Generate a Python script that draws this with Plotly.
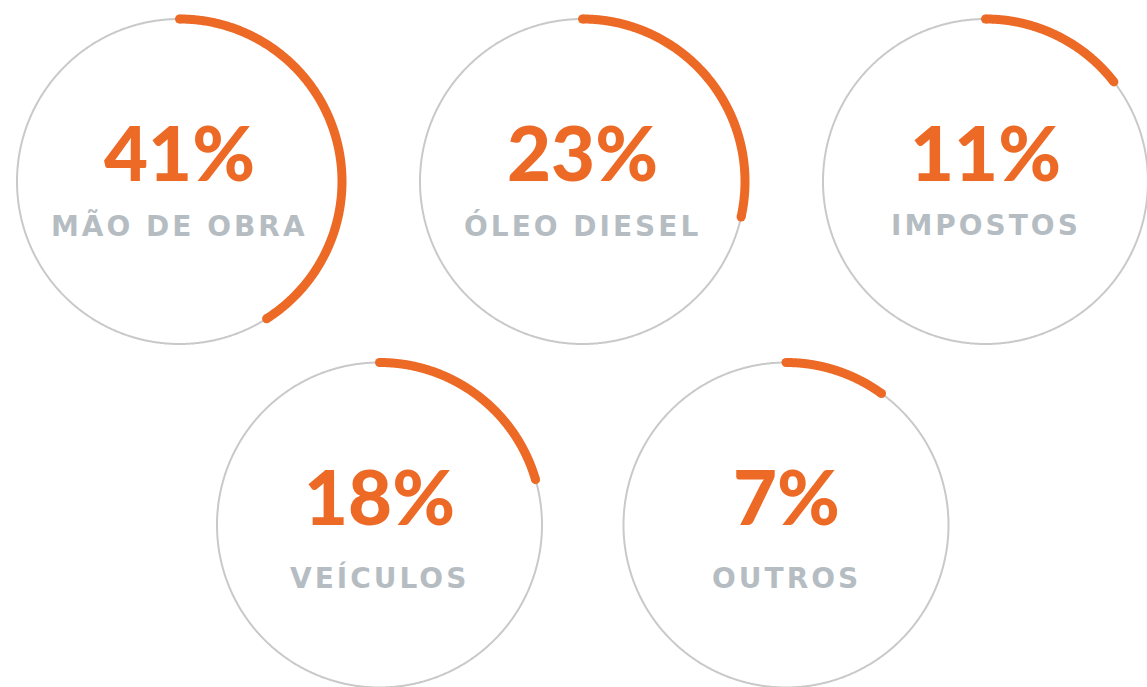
import numpy as np
import plotly.graph_objects as go

# ---- data ----
labels = ["MÃO DE OBRA", "ÓLEO DIESEL", "IMPOSTOS", "VEÍCULOS", "OUTROS"]
values = [41, 23, 11, 18, 7]                 # printed percentages
arc_extent = [41, 28.5, 14.5, 20.5, 10]      # arc length (percent of circle) as drawn in the picture

# ---- layout / style ----
W, H = 1147, 687
centers = [(179.5, 181.5), (582.5, 181.5), (985.5, 181.5), (379.5, 525.0), (786.0, 525.0)]
R = 162.5
pct_dy = [-30, -30, -30, -29.5, -29.5]
lab_dy = [44, 44, 44, 53, 53]
ORANGE = "#EC6A26"
RING = "#C9C9C9"
LABEL = "#B5BDC3"
ARC_W = 9

fig = go.Figure()

for (cx, cy), lab, val, ext, pdy, ldy in zip(centers, labels, values, arc_extent, pct_dy, lab_dy):
    th = np.radians(np.linspace(0, 360, 721))
    fig.add_trace(go.Scatter(x=cx + R * np.sin(th), y=cy - R * np.cos(th), mode="lines",
                             line=dict(color=RING, width=2, simplify=False),
                             hoverinfo="skip", showlegend=False))
    n = 300
    th = np.radians(np.linspace(0, ext * 3.6, n))
    sizes = [0] * n
    sizes[0] = sizes[-1] = ARC_W
    fig.add_trace(go.Scatter(x=cx + R * np.sin(th), y=cy - R * np.cos(th), mode="lines+markers",
                             line=dict(color=ORANGE, width=ARC_W, simplify=False),
                             marker=dict(color=ORANGE, size=sizes, opacity=1, line=dict(width=0)),
                             hoverinfo="skip", showlegend=False))
    fig.add_annotation(x=cx, y=cy + pdy, xref="x", yref="y", text=f"{val}%", showarrow=False,
                       xanchor="center", yanchor="middle",
                       font=dict(family="Lato", size=76, color=ORANGE, weight=900))
    fig.add_annotation(x=cx, y=cy + ldy, xref="x", yref="y",
                       text=f'<span style="letter-spacing:3px">{lab}</span>', showarrow=False,
                       xanchor="center", yanchor="middle",
                       font=dict(family="DejaVu Sans", size=28, color=LABEL, weight="bold"))

fig.update_layout(
    width=W, height=H, margin=dict(l=0, r=0, t=0, b=0),
    paper_bgcolor="white", plot_bgcolor="white",
    xaxis=dict(range=[0, W], visible=False, fixedrange=True),
    yaxis=dict(range=[H, 0], visible=False, fixedrange=True),
)

fig.write_html("out.html", config={"displayModeBar": False},
               post_script="document.body.style.margin='0';document.body.style.overflow='hidden';")
